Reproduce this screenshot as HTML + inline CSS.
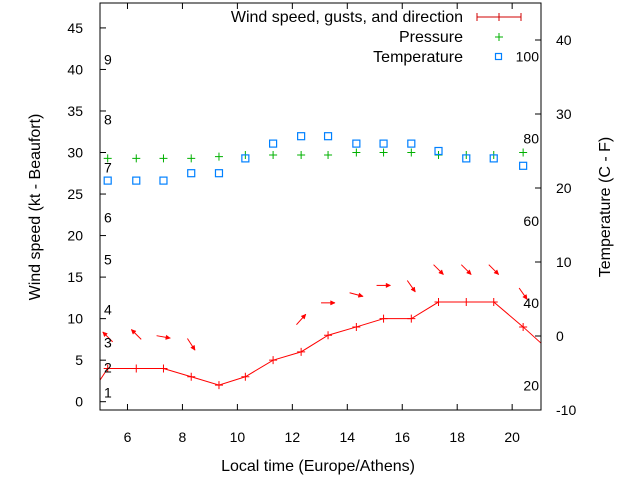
<!DOCTYPE html>
<html><head><meta charset="utf-8"><style>
html,body{margin:0;padding:0;background:#fff;}
svg{display:block;font-family:"Liberation Sans",sans-serif;}
</style></head><body>
<svg id="chart" width="640" height="480" viewBox="0 0 640 480" xmlns="http://www.w3.org/2000/svg">
<rect width="640" height="480" fill="#fff"/>
<g id="marks"></g>
<rect x="100" y="3" width="441" height="407" fill="none" stroke="#000" stroke-width="1"/>
<g id="axes"></g>
<text x="318" y="471" font-size="16" text-anchor="middle">Local time (Europe/Athens)</text>
<text transform="translate(40,207) rotate(-90)" font-size="16" text-anchor="middle">Wind speed (kt - Beaufort)</text>
<text transform="translate(610,207) rotate(-90)" font-size="16" text-anchor="middle">Temperature (C - F)</text>
<g font-size="16" text-anchor="end">
<text x="463" y="22">Wind speed, gusts, and direction</text>
<g stroke="#d00000" stroke-width="1"><line x1="477" y1="17" x2="521" y2="17"/><line x1="477" y1="13" x2="477" y2="21"/><line x1="499" y1="13" x2="499" y2="21"/><line x1="521" y1="13" x2="521" y2="21"/></g>
<text x="463" y="42">Pressure</text>
<g stroke="#00b000"><line x1="495" y1="37" x2="503" y2="37"/><line x1="499" y1="33" x2="499" y2="41"/></g>
<text x="463" y="62">Temperature</text>
<rect x="495.5" y="53.5" width="6" height="6" fill="none" stroke="#0080ff" stroke-width="1.2"/>
</g>
</svg>
<script>
const hours = [5.28,6.32,7.31,8.32,9.33,10.29,11.3,12.32,13.3,14.33,15.32,16.33,17.32,18.33,19.33,20.4];
const windKt = [4,4,4,3,2,3,5,6,8,9,10,10,12,12,12,9];
const windBefore = -1, windAfter = 6;
const gustKt = [7.8,8.1,7.8,6.9,null,null,null,9.9,11.9,12.9,14,13.9,15.9,15.9,15.9,13];
const windDirTo = [315,315,100,147,null,null,null,42,90,105,90,145,135,135,135,145];
const pressure = [29.3,29.3,29.3,29.3,29.5,29.7,29.7,29.7,29.7,30,30,30,29.7,29.7,29.7,30];
const tempC = [21,21,21,22,22,24,26,27,27,26,26,26,25,24,24,23];
const xTicks = [6,8,10,12,14,16,18,20];
const yTicks = [0,5,10,15,20,25,30,35,40,45];
const y2Ticks = [-10,0,10,20,30,40];
const fTicks = [20,40,60,80,100];
const beaufort = [1,2,3,4,5,6,7,8,9];
const beaufortKt = [1.1,4.1,7.1,11.1,17.1,22.2,28.2,34,41.2];

const L=100,R=541,T=3,B=410;
const X = h => L + (h-5.0)/(21.05-5.0)*(R-L);
const Y = v => B - (v+1)/(48+1)*(B-T);
const Y2 = c => B - (c+10)/(45+10)*(B-T);
const NS='http://www.w3.org/2000/svg';
const marks=document.getElementById('marks'), axes=document.getElementById('axes');
function mk(tag,attrs,parent){const e=document.createElementNS(NS,tag);for(const k in attrs)e.setAttribute(k,attrs[k]);parent.appendChild(e);return e;}

const defs=mk('defs',{},marks);
const cp=mk('clipPath',{id:'clip'},defs);
mk('rect',{x:L,y:T,width:R-L,height:B-T},cp);
const g=mk('g',{'clip-path':'url(#clip)'},marks);

let pts=[[X(hours[0]-1),Y(windBefore)]];
hours.forEach((h,i)=>pts.push([X(h),Y(windKt[i])]));
pts.push([X(hours[hours.length-1]+1),Y(windAfter)]);
const wl=mk('polyline',{points:pts.map(p=>p.join(',')).join(' '),fill:'none',stroke:'#ff0000','stroke-width':1},g);


hours.forEach((h,i)=>{
  const x=X(h),y=Y(windKt[i]);
  const p=mk('path',{d:`M${x-4},${y}H${x+4}M${x},${y-4}V${y+4}`,stroke:'#ff0000','stroke-width':1},g);
  
  
});
hours.forEach((h,i)=>{
  if(gustKt[i]==null) return;
  const a=(windDirTo[i]-90)*Math.PI/180, len=14;
  const cx=X(h), cy=Y(gustKt[i]);
  const dx=Math.cos(a)*len/2, dy=Math.sin(a)*len/2;
  const tx=cx-dx,ty=cy-dy,hx=cx+dx,hy=cy+dy;
  const ah=5, aw=0.45;
  const l1x=hx-ah*Math.cos(a-aw), l1y=hy-ah*Math.sin(a-aw);
  const l2x=hx-ah*Math.cos(a+aw), l2y=hy-ah*Math.sin(a+aw);
  const ag=mk('g',{},g);
  
  
  mk('line',{x1:tx,y1:ty,x2:hx,y2:hy,stroke:'#ff0000','stroke-width':1},ag);
  mk('polygon',{points:`${hx},${hy} ${l1x},${l1y} ${l2x},${l2y}`,fill:'#ff0000',stroke:'#ff0000','stroke-width':0.5},ag);
});
hours.forEach((h,i)=>{
  const x=X(h),y=Y(pressure[i]);
  const p=mk('path',{d:`M${x-4},${y}H${x+4}M${x},${y-4}V${y+4}`,stroke:'#00b000','stroke-width':1},g);
  
  
});
hours.forEach((h,i)=>{
  const x=X(h),y=Y2(tempC[i]);
  const r=mk('rect',{x:x-3.5,y:y-3.5,width:7,height:7,fill:'none',stroke:'#0080ff','stroke-width':1.2},g);
  
  
});

xTicks.forEach(t=>{
  const x=X(t);
  mk('line',{x1:x,y1:B,x2:x,y2:B-6,stroke:'#000'},axes);
  mk('line',{x1:x,y1:T,x2:x,y2:T+6,stroke:'#000'},axes);
  const tx=mk('text',{x:x,y:442,'font-size':14,'text-anchor':'middle'},axes);
  tx.textContent=t;
  
  
});
yTicks.forEach(t=>{
  const y=Y(t);
  mk('line',{x1:L,y1:y,x2:L+6,y2:y,stroke:'#000'},axes);
  const tx=mk('text',{x:83,y:y+5,'font-size':14,'text-anchor':'end'},axes);
  tx.textContent=t;
  
  
});
y2Ticks.forEach(t=>{
  const y=Y2(t);
  mk('line',{x1:R,y1:y,x2:R-6,y2:y,stroke:'#000'},axes);
  const tx=mk('text',{x:556,y:y+5,'font-size':14,'text-anchor':'start'},axes);
  tx.textContent=t;
  
  
});
fTicks.forEach(f=>{
  const y=Y2((f-32)*5/9);
  const tx=mk('text',{x:539,y:y+5,'font-size':14,'text-anchor':'end'},axes);
  tx.textContent=f;
  
  
});
beaufort.forEach((b,i)=>{
  const tx=mk('text',{x:104,y:Y(beaufortKt[i])+5,'font-size':14},axes);
  tx.textContent=b;
  
  
});
</script>
</body></html>
